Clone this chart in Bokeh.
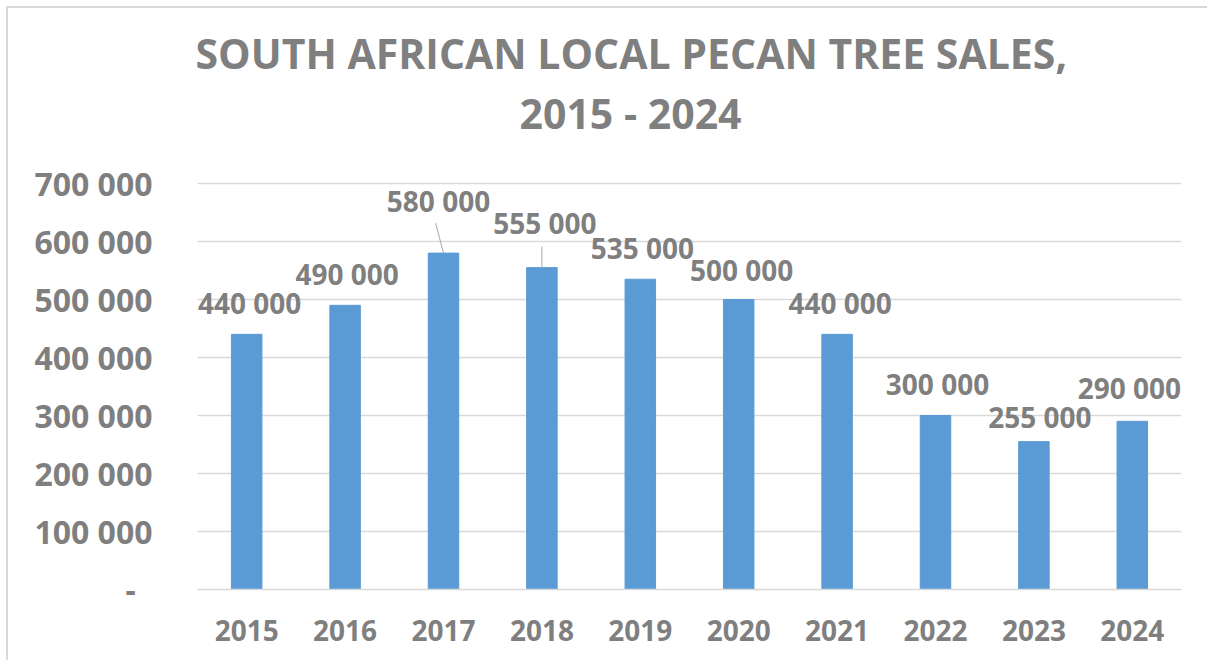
from bokeh.plotting import figure
from bokeh.models import (ColumnDataSource, FixedTicker, LabelSet, Range1d, Title)
from bokeh.core.properties import value
from bokeh.transform import dodge
from bokeh.embed import file_html
from bokeh.resources import INLINE

# ---- data ----
years = ["2015", "2016", "2017", "2018", "2019", "2020", "2021", "2022", "2023", "2024"]
sales = [440000, 490000, 580000, 555000, 535000, 500000, 440000, 300000, 255000, 290000]
y_ticks = [0, 100000, 200000, 300000, 400000, 500000, 600000, 700000]
title_line1 = "SOUTH AFRICAN LOCAL PECAN TREE SALES,"
title_line2 = "2015 - 2024"

# ---- styling (pixel offsets of data labels) ----
label_dx = [3, 2, -5, 3, 2, 3, 3, 2, 6, -3]
label_dy = [20, 20, 41, 34, 20, 19, 20, 21, 14, 22]
leader_years = ["2017", "2018"]
leader_len_px = [30, 21]
leader_dx = [-0.08, 0.0]

GRAY = "#7f7f7f"
GRID = "#d9d9d9"
BLUE = "#5b9bd5"
FONT = "Open Sans"


def fmt(v):
    return f"{v:,}".replace(",", " ")


W, H = 1201, 654
p = figure(width=W, height=H, x_range=years, y_range=Range1d(0, 703500),
           output_backend="svg", toolbar_location=None,
           min_border_left=189, min_border_right=W - 189 - 984,
           min_border_top=173, min_border_bottom=H - 173 - 408)
p.styles = {"margin-left": "6px", "margin-top": "6px",
            "border-left": "2px solid #d9d9d9",
            "border-top": "2px solid #d9d9d9"}
p.outline_line_color = None
p.background_fill_color = "white"
p.border_fill_color = "white"

src = ColumnDataSource(dict(years=years, sales=sales,
                            labels=[fmt(v) for v in sales],
                            dx=label_dx, dy=label_dy))
p.vbar(x="years", top="sales", width=0.31, source=src,
       fill_color=BLUE, line_color=BLUE)

ls = LabelSet(x="years", y="sales", text="labels", source=src,
              x_offset="dx", y_offset="dy", text_align="center",
              text_baseline="alphabetic", text_font=value(FONT),
              text_font_size=value("28px"), text_font_style=value("bold"),
              text_color=value(GRAY))
p.add_layout(ls)

# leader lines
upp = 700000 / 406.0
for yr, ln, ddx in zip(leader_years, leader_len_px, leader_dx):
    v = sales[years.index(yr)]
    s = ColumnDataSource(dict(x=[yr], y0=[v], y1=[v + ln * upp]))
    p.segment(x0=dodge("x", 0.0, range=p.x_range), y0="y0",
              x1=dodge("x", ddx, range=p.x_range), y1="y1",
              source=s, line_color="#a6a6a6", line_width=1)

# axes
p.xgrid.grid_line_color = None
p.ygrid.grid_line_color = GRID
p.ygrid.grid_line_width = 1.3
p.yaxis.ticker = FixedTicker(ticks=y_ticks)
p.yaxis.major_label_overrides = {t: (fmt(t) if t else "-\u00a0\u00a0") for t in y_ticks}
p.yaxis.axis_line_color = None
p.yaxis.major_tick_line_color = None
p.yaxis.minor_tick_line_color = None
p.yaxis.major_tick_out = 0
p.yaxis.major_label_standoff = 45
p.yaxis.major_label_text_font = FONT
p.yaxis.major_label_text_font_size = "32px"
p.yaxis.major_label_text_font_style = "bold"
p.yaxis.major_label_text_color = GRAY

p.xaxis.axis_line_color = GRID
p.xaxis.axis_line_width = 1.3
p.xaxis.major_tick_line_color = None
p.xaxis.minor_tick_line_color = None
p.xaxis.major_tick_out = 0
p.xaxis.major_label_standoff = 30
p.xaxis.major_label_text_font = FONT
p.xaxis.major_label_text_font_size = "28px"
p.xaxis.major_label_text_font_style = "bold"
p.xaxis.major_label_text_color = GRAY

# spacer between frame and title, then two title lines (outer added last)
p.add_layout(Title(text=" ", text_font_size="1px", standoff=36), "above")
for txt, off, sd in ((title_line2, 322, 4), (title_line1, -2, 0)):
    p.add_layout(Title(text=txt, align="left", offset=off, standoff=sd,
                       text_font=FONT, text_font_size="41px",
                       text_font_style="bold", text_color=GRAY), "above")

open("out.html", "w").write(file_html(p, INLINE))
